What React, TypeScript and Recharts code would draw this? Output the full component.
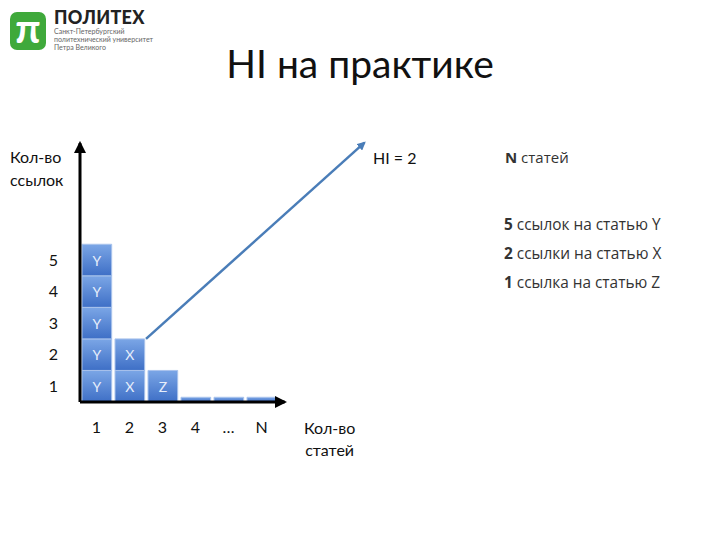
import { Bar, ComposedChart, ReferenceLine, XAxis, YAxis } from 'recharts'

// articles along the x axis (column centres) and their tick labels
const articleLabels = ['1', '2', '3', '4', '…', 'N']
const articlePos = [0.5, 1.5, 2.5, 3.5, 4.5, 5.5]
const articleLetters = ['Y', 'X', 'Z', '', '', '']

// one square per citation, stacked by level
const level1 = [1, 1, 1, 0.15, 0.15, 0.15]
const level2 = [1, 1, 0, 0, 0, 0]
const level3 = [1, 0, 0, 0, 0, 0]
const level4 = [1, 0, 0, 0, 0, 0]
const level5 = [1, 0, 0, 0, 0, 0]

const citeTicks = [0.5, 1.5, 2.5, 3.5, 4.5]
const citeLabels = ['1', '2', '3', '4', '5']

// h-index line y = x, axes ends
const hiFrom = { x: 2, y: 2 }
const hiTo = { x: 8.62, y: 8.22 }
const yAxisTop = 8.2
const xAxisEnd = 6.2

const rows = articleLabels.map((a, i) => ({
  x: articlePos[i],
  name: a,
  r1: level1[i],
  r2: level2[i],
  r3: level3[i],
  r4: level4[i],
  r5: level5[i],
}))

const FONT = 'Lato, "Open Sans", sans-serif'
const BODY = '"Open Sans", Lato, sans-serif'

const renderLetter = (p: any) => {
  const { x, y, width, height, index } = p
  if (!height || height < 10) return null
  return (
    <text
      x={x + width / 2}
      y={y + height / 2}
      textAnchor="middle"
      dominantBaseline="central"
      fill="#e6eefb"
      fontSize={14}
      fontFamily={FONT}
    >
      {articleLetters[index]}
    </text>
  )
}

const levels = ['r1', 'r2', 'r3', 'r4', 'r5']

export default function App() {
  return (
    <div style={{ position: 'absolute', left: 0, top: 0, width: 720, height: 540, fontFamily: FONT, background: '#fff' }}>
      {/* logo */}
      <div style={{ position: 'absolute', left: 10, top: 12, width: 36, height: 38, borderRadius: 7, background: '#3fa93b', color: '#fff', fontSize: 40, fontWeight: 700, lineHeight: '32px', textAlign: 'center', fontFamily: 'Lato, sans-serif' }}>π</div>
      <div style={{ position: 'absolute', left: 54, top: 6, fontSize: 18, fontWeight: 900, color: '#222', letterSpacing: 0.3 }}>ПОЛИТЕХ</div>
      <div style={{ position: 'absolute', left: 54, top: 27, fontSize: 7, lineHeight: '8px', color: '#666' }}>
        Санкт-Петербургский
        <br />
        политехнический университет
        <br />
        Петра Великого
      </div>

      <div style={{ position: 'absolute', left: 0, width: 720, top: 40, textAlign: 'center', fontSize: 39, color: '#111' }}>HI на практике</div>

      <div style={{ position: 'absolute', left: 10, top: 145, fontSize: 16, lineHeight: '23px', color: '#111' }}>
        Кол-во
        <br />
        ссылок
      </div>
      <div style={{ position: 'absolute', left: 373, top: 148, fontSize: 16, color: '#111' }}>HI = 2</div>
      <div style={{ position: 'absolute', left: 304, top: 417, fontSize: 16, lineHeight: '22px', color: '#111', textAlign: 'center' }}>
        Кол-во
        <br />
        статей
      </div>

      <div style={{ position: 'absolute', left: 505, top: 147, fontSize: 15, color: '#333', fontFamily: BODY }}>
        <b>N</b> статей
      </div>
      <div style={{ position: 'absolute', left: 504, top: 210, fontSize: 15.4, lineHeight: '29px', color: '#333', fontFamily: BODY }}>
        <b>5</b> ссылок на статью Y
        <br />
        <b>2</b> ссылки на статью X
        <br />
        <b>1</b> ссылка на статью Z
      </div>

      <div style={{ position: 'absolute', left: 0, top: 0 }}>
        <ComposedChart
          width={720}
          height={540}
          data={rows}
          margin={{ top: 137, right: 343, bottom: 108, left: 50 }}
          style={{ fontFamily: FONT }}
        >
          <defs>
            <linearGradient id="cellFill" x1="0" y1="0" x2="0" y2="1">
              <stop offset="0%" stopColor="#7ba6e6" />
              <stop offset="100%" stopColor="#3e6fc6" />
            </linearGradient>
            <marker id="blackHead" viewBox="0 0 10 10" refX="8" refY="5" markerWidth="4" markerHeight="4" orient="auto">
              <path d="M0,0 L10,5 L0,10 z" fill="#000" />
            </marker>
            <marker id="blueHead" viewBox="0 0 10 10" refX="8" refY="5" markerWidth="3.5" markerHeight="3.5" orient="auto">
              <path d="M0,0 L10,5 L0,10 z" fill="#4a7db8" />
            </marker>
          </defs>
          <XAxis
            type="number"
            dataKey="x"
            domain={[0, 9]}
            ticks={articlePos}
            tickFormatter={(v: number) => articleLabels[articlePos.indexOf(v)] ?? ''}
            axisLine={false}
            tickLine={false}
            tickMargin={14}
            height={30}
            tick={{ fill: '#111', fontSize: 16, fontFamily: FONT }}
            interval={0}
          />
          <YAxis
            type="number"
            domain={[0, 8.4]}
            ticks={citeTicks}
            tickFormatter={(v: number) => citeLabels[citeTicks.indexOf(v)] ?? ''}
            axisLine={false}
            tickLine={false}
            tickMargin={16}
            width={30}
            tick={{ fill: '#111', fontSize: 16, fontFamily: FONT }}
            interval={0}
          />
          {levels.map((k) => (
            <Bar
              key={k}
              dataKey={k}
              stackId="cites"
              barSize={33}
              fill="url(#cellFill)"
              stroke="#a9c3ec"
              strokeWidth={1}
              isAnimationActive={false}
              label={renderLetter}
            />
          ))}
          <ReferenceLine
            segment={[hiFrom, hiTo]}
            stroke="#4a7db8"
            strokeWidth={2.5}
            markerEnd="url(#blueHead)"
            ifOverflow="visible"
          />
          <ReferenceLine
            segment={[{ x: 0, y: 0 }, { x: 0, y: yAxisTop }]}
            stroke="#000"
            strokeWidth={3}
            markerEnd="url(#blackHead)"
            ifOverflow="visible"
          />
          <ReferenceLine
            segment={[{ x: 0, y: 0 }, { x: xAxisEnd, y: 0 }]}
            stroke="#000"
            strokeWidth={3}
            markerEnd="url(#blackHead)"
            ifOverflow="visible"
          />
        </ComposedChart>
      </div>
    </div>
  )
}
